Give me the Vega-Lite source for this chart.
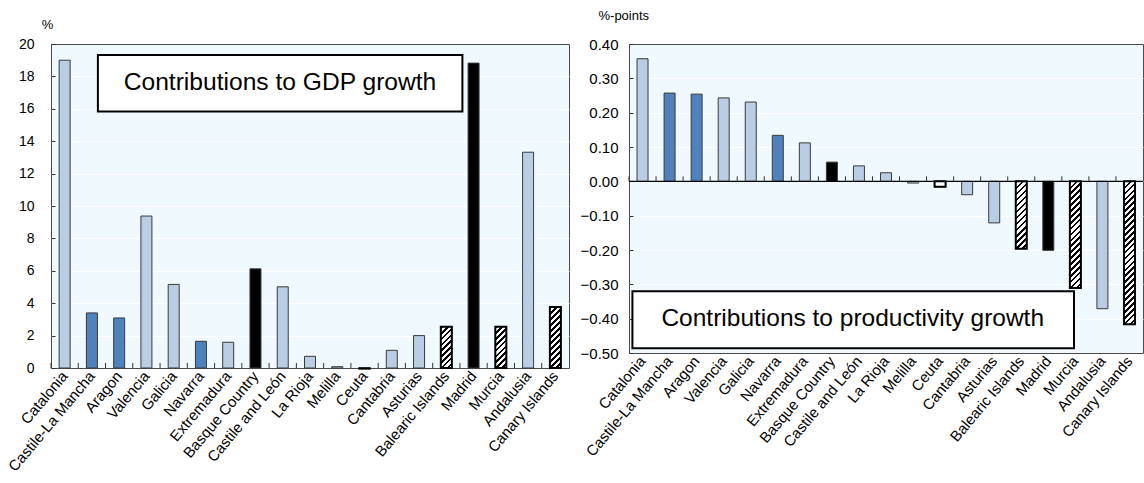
{
  "$schema": "https://vega.github.io/schema/vega-lite/v6.json",
  "background": "white",
  "padding": {"left": 5, "top": 8, "right": 0, "bottom": 0},
  "config": {
    "font": "Liberation Sans",
    "view": {"fill": "#F0FAFE", "stroke": "#4a4a4a", "strokeWidth": 1},
    "axis": {"labelColor": "#000000", "titleColor": "#000000", "gridWidth": 1}
  },
  "datasets": {
    "regions": [
      {"region": "Catalonia", "gdp": 19.0, "prod": 0.357, "group": "light"},
      {"region": "Castile-La Mancha", "gdp": 3.40, "prod": 0.257, "group": "dark"},
      {"region": "Aragon", "gdp": 3.09, "prod": 0.254, "group": "dark"},
      {"region": "Valencia", "gdp": 9.38, "prod": 0.243, "group": "light"},
      {"region": "Galicia", "gdp": 5.16, "prod": 0.231, "group": "light"},
      {"region": "Navarra", "gdp": 1.65, "prod": 0.134, "group": "dark"},
      {"region": "Extremadura", "gdp": 1.59, "prod": 0.112, "group": "light"},
      {"region": "Basque Country", "gdp": 6.12, "prod": 0.056, "group": "black"},
      {"region": "Castile and León", "gdp": 5.01, "prod": 0.045, "group": "light"},
      {"region": "La Rioja", "gdp": 0.72, "prod": 0.025, "group": "light"},
      {"region": "Melilla", "gdp": 0.08, "prod": -0.005, "group": "light"},
      {"region": "Ceuta", "gdp": -0.05, "prod": -0.016, "group": "hatched"},
      {"region": "Cantabria", "gdp": 1.09, "prod": -0.039, "group": "light"},
      {"region": "Asturias", "gdp": 2.00, "prod": -0.121, "group": "light"},
      {"region": "Balearic Islands", "gdp": 2.54, "prod": -0.196, "group": "hatched"},
      {"region": "Madrid", "gdp": 18.82, "prod": -0.201, "group": "black"},
      {"region": "Murcia", "gdp": 2.54, "prod": -0.311, "group": "hatched"},
      {"region": "Andalusia", "gdp": 13.32, "prod": -0.371, "group": "light"},
      {"region": "Canary Islands", "gdp": 3.77, "prod": -0.416, "group": "hatched"}
    ]
  },
  "bounds": "flush",
  "spacing": 60,
  "hconcat": [
    {
      "width": 518,
      "height": 324,
      "data": {"name": "regions"},
      "layer": [
        {
          "mark": {"type": "bar", "width": 11, "stroke": "#3a3a3a", "strokeWidth": 1},
          "encoding": {
            "x": {
              "field": "region", "type": "nominal",
              "scale": {"domain": ["Catalonia","Castile-La Mancha","Aragon","Valencia","Galicia","Navarra","Extremadura","Basque Country","Castile and León","La Rioja","Melilla","Ceuta","Cantabria","Asturias","Balearic Islands","Madrid","Murcia","Andalusia","Canary Islands"], "paddingInner": 0, "paddingOuter": 0},
              "axis": {"title": null, "labelAngle": -50, "labelAlign": "right", "labelBaseline": "middle", "labelFontSize": 15, "labelPadding": 5, "ticks": false, "domain": false, "grid": false, "labelOverlap": false}
            },
            "y": {
              "field": "gdp", "type": "quantitative",
              "scale": {"domain": [0, 20], "nice": false, "zero": false},
              "axis": {"values": [0,2,4,6,8,10,12,14,16,18,20], "tickCount": 30, "format": "d", "title": "%", "titleAngle": 0, "titleX": -4, "titleY": -16, "titleAlign": "center", "titleBaseline": "alphabetic", "titleFontWeight": "normal", "titleFontSize": 13, "labelFontSize": 14, "labelPadding": 21, "labelOverlap": false, "tickSize": -4, "tickColor": "#333333", "domain": false, "grid": true,
                "gridColor": {"condition": {"test": "datum.value === 0 || datum.value === 20", "value": "transparent"}, "value": "#FFFFFF"}}
            },
            "color": {
              "field": "group", "type": "nominal", "legend": null,
              "scale": {"domain": ["light", "dark", "black", "hatched"], "range": ["#B9CDE5", "#4F81BD", "#000000", "#FFFFFF"]}
            }
          }
        },
        {
          "transform": [{"filter": "datum.region === 'Ceuta'"}],
          "mark": {"type": "bar", "width": 11, "fill": "#FFFFFF", "stroke": "#000000", "strokeWidth": 1.5},
          "encoding": {
            "x": {"field": "region", "type": "nominal"},
            "y": {"field": "gdp", "type": "quantitative"}
          }
        },
        {
          "transform": [{"filter": "datum.region === 'Balearic Islands' || datum.region === 'Murcia'"}],
          "mark": {"type": "bar", "width": 11, "stroke": "#000000", "strokeWidth": 2,
            "fill": {"gradient": "linear", "x1": 0, "y1": 0, "x2": 0.3162, "y2": 1.1828, "stops": [
              {"offset": 0, "color": "#000"}, {"offset": 0.05, "color": "#000"}, {"offset": 0.05, "color": "#fff"}, {"offset": 0.1111, "color": "#fff"},
              {"offset": 0.1111, "color": "#000"}, {"offset": 0.1611, "color": "#000"}, {"offset": 0.1611, "color": "#fff"}, {"offset": 0.2222, "color": "#fff"},
              {"offset": 0.2222, "color": "#000"}, {"offset": 0.2722, "color": "#000"}, {"offset": 0.2722, "color": "#fff"}, {"offset": 0.3333, "color": "#fff"},
              {"offset": 0.3333, "color": "#000"}, {"offset": 0.3833, "color": "#000"}, {"offset": 0.3833, "color": "#fff"}, {"offset": 0.4444, "color": "#fff"},
              {"offset": 0.4444, "color": "#000"}, {"offset": 0.4944, "color": "#000"}, {"offset": 0.4944, "color": "#fff"}, {"offset": 0.5556, "color": "#fff"},
              {"offset": 0.5556, "color": "#000"}, {"offset": 0.6056, "color": "#000"}, {"offset": 0.6056, "color": "#fff"}, {"offset": 0.6667, "color": "#fff"},
              {"offset": 0.6667, "color": "#000"}, {"offset": 0.7167, "color": "#000"}, {"offset": 0.7167, "color": "#fff"}, {"offset": 0.7778, "color": "#fff"},
              {"offset": 0.7778, "color": "#000"}, {"offset": 0.8278, "color": "#000"}, {"offset": 0.8278, "color": "#fff"}, {"offset": 0.8889, "color": "#fff"},
              {"offset": 0.8889, "color": "#000"}, {"offset": 0.9389, "color": "#000"}, {"offset": 0.9389, "color": "#fff"}, {"offset": 1, "color": "#fff"}
            ]}},
          "encoding": {
            "x": {"field": "region", "type": "nominal"},
            "y": {"field": "gdp", "type": "quantitative"}
          }
        },
        {
          "transform": [{"filter": "datum.region === 'Canary Islands'"}],
          "mark": {"type": "bar", "width": 11, "stroke": "#000000", "strokeWidth": 2,
            "fill": {"gradient": "linear", "x1": 0, "y1": 0, "x2": 0.2059, "y2": 1.1431, "stops": [
              {"offset": 0, "color": "#000"}, {"offset": 0.0375, "color": "#000"}, {"offset": 0.0375, "color": "#fff"}, {"offset": 0.0833, "color": "#fff"},
              {"offset": 0.0833, "color": "#000"}, {"offset": 0.1208, "color": "#000"}, {"offset": 0.1208, "color": "#fff"}, {"offset": 0.1667, "color": "#fff"},
              {"offset": 0.1667, "color": "#000"}, {"offset": 0.2042, "color": "#000"}, {"offset": 0.2042, "color": "#fff"}, {"offset": 0.25, "color": "#fff"},
              {"offset": 0.25, "color": "#000"}, {"offset": 0.2875, "color": "#000"}, {"offset": 0.2875, "color": "#fff"}, {"offset": 0.3333, "color": "#fff"},
              {"offset": 0.3333, "color": "#000"}, {"offset": 0.3708, "color": "#000"}, {"offset": 0.3708, "color": "#fff"}, {"offset": 0.4167, "color": "#fff"},
              {"offset": 0.4167, "color": "#000"}, {"offset": 0.4542, "color": "#000"}, {"offset": 0.4542, "color": "#fff"}, {"offset": 0.5, "color": "#fff"},
              {"offset": 0.5, "color": "#000"}, {"offset": 0.5375, "color": "#000"}, {"offset": 0.5375, "color": "#fff"}, {"offset": 0.5833, "color": "#fff"},
              {"offset": 0.5833, "color": "#000"}, {"offset": 0.6208, "color": "#000"}, {"offset": 0.6208, "color": "#fff"}, {"offset": 0.6667, "color": "#fff"},
              {"offset": 0.6667, "color": "#000"}, {"offset": 0.7042, "color": "#000"}, {"offset": 0.7042, "color": "#fff"}, {"offset": 0.75, "color": "#fff"},
              {"offset": 0.75, "color": "#000"}, {"offset": 0.7875, "color": "#000"}, {"offset": 0.7875, "color": "#fff"}, {"offset": 0.8333, "color": "#fff"},
              {"offset": 0.8333, "color": "#000"}, {"offset": 0.8708, "color": "#000"}, {"offset": 0.8708, "color": "#fff"}, {"offset": 0.9167, "color": "#fff"},
              {"offset": 0.9167, "color": "#000"}, {"offset": 0.9542, "color": "#000"}, {"offset": 0.9542, "color": "#fff"}, {"offset": 1, "color": "#fff"}
            ]}},
          "encoding": {
            "x": {"field": "region", "type": "nominal"},
            "y": {"field": "gdp", "type": "quantitative"}
          }
        },
        {
          "mark": {"type": "rule", "color": "#333333", "strokeWidth": 1},
          "encoding": {
            "x": {"field": "region", "type": "nominal", "bandPosition": 0},
            "y": {"datum": 0},
            "y2": {"datum": 0.31}
          }
        },
        {
          "data": {"values": [{"label": "Contributions to GDP growth"}]},
          "mark": {"type": "rect", "fill": "#FFFFFF", "stroke": "#000000", "strokeWidth": 2},
          "encoding": {
            "x": {"datum": "Castile-La Mancha", "type": "nominal", "bandPosition": 0.72},
            "x2": {"datum": "Madrid", "bandPosition": 0.09},
            "y": {"datum": 19.32},
            "y2": {"datum": 15.83}
          }
        },
        {
          "data": {"values": [{"label": "Contributions to GDP growth"}]},
          "mark": {"type": "text", "fontSize": 24.6, "align": "center", "baseline": "middle", "color": "#000000"},
          "encoding": {
            "x": {"datum": "Castile and León", "type": "nominal", "bandPosition": 0.4},
            "y": {"datum": 17.58},
            "text": {"field": "label"}
          }
        }
      ]
    },
    {
      "width": 514,
      "height": 309,
      "data": {"name": "regions"},
      "layer": [
        {
          "mark": {"type": "bar", "width": 11, "stroke": "#3a3a3a", "strokeWidth": 1},
          "encoding": {
            "x": {
              "field": "region", "type": "nominal",
              "scale": {"domain": ["Catalonia","Castile-La Mancha","Aragon","Valencia","Galicia","Navarra","Extremadura","Basque Country","Castile and León","La Rioja","Melilla","Ceuta","Cantabria","Asturias","Balearic Islands","Madrid","Murcia","Andalusia","Canary Islands"], "paddingInner": 0, "paddingOuter": 0},
              "axis": {"title": null, "labelAngle": -50, "labelAlign": "right", "labelBaseline": "middle", "labelFontSize": 15, "labelPadding": 5, "ticks": false, "domain": false, "grid": false, "labelOverlap": false}
            },
            "y": {
              "field": "prod", "type": "quantitative",
              "scale": {"domain": [-0.5, 0.4], "nice": false, "zero": false},
              "axis": {"values": [-0.5,-0.4,-0.3,-0.2,-0.1,0,0.1,0.2,0.3,0.4], "tickCount": 30, "format": ".2f", "title": "%-points", "titleAngle": 0, "titleX": -31, "titleY": -25, "titleAlign": "left", "titleBaseline": "alphabetic", "titleFontWeight": "normal", "titleFontSize": 13, "labelFontSize": 15, "labelPadding": 15, "labelOverlap": false, "tickSize": -4, "tickColor": "#333333", "domain": false, "grid": true,
                "gridColor": {"condition": {"test": "datum.value < -0.49 || datum.value > 0.39", "value": "transparent"}, "value": "#FFFFFF"}}
            },
            "color": {
              "field": "group", "type": "nominal", "legend": null,
              "scale": {"domain": ["light", "dark", "black", "hatched"], "range": ["#B9CDE5", "#4F81BD", "#000000", "#FFFFFF"]}
            }
          }
        },
        {
          "transform": [{"filter": "datum.region === 'Ceuta'"}],
          "mark": {"type": "bar", "width": 11, "fill": "#FFFFFF", "stroke": "#000000", "strokeWidth": 2},
          "encoding": {
            "x": {"field": "region", "type": "nominal"},
            "y": {"field": "prod", "type": "quantitative"}
          }
        },
        {
          "transform": [{"filter": "datum.region === 'Balearic Islands'"}],
          "mark": {"type": "bar", "width": 11, "stroke": "#000000", "strokeWidth": 2,
            "fill": {"gradient": "linear", "x1": 0, "y1": 0, "x2": 0.1853, "y2": 1.1332, "stops": [
              {"offset": 0, "color": "#000"}, {"offset": 0.0346, "color": "#000"}, {"offset": 0.0346, "color": "#fff"}, {"offset": 0.0769, "color": "#fff"},
              {"offset": 0.0769, "color": "#000"}, {"offset": 0.1115, "color": "#000"}, {"offset": 0.1115, "color": "#fff"}, {"offset": 0.1538, "color": "#fff"},
              {"offset": 0.1538, "color": "#000"}, {"offset": 0.1885, "color": "#000"}, {"offset": 0.1885, "color": "#fff"}, {"offset": 0.2308, "color": "#fff"},
              {"offset": 0.2308, "color": "#000"}, {"offset": 0.2654, "color": "#000"}, {"offset": 0.2654, "color": "#fff"}, {"offset": 0.3077, "color": "#fff"},
              {"offset": 0.3077, "color": "#000"}, {"offset": 0.3423, "color": "#000"}, {"offset": 0.3423, "color": "#fff"}, {"offset": 0.3846, "color": "#fff"},
              {"offset": 0.3846, "color": "#000"}, {"offset": 0.4192, "color": "#000"}, {"offset": 0.4192, "color": "#fff"}, {"offset": 0.4615, "color": "#fff"},
              {"offset": 0.4615, "color": "#000"}, {"offset": 0.4962, "color": "#000"}, {"offset": 0.4962, "color": "#fff"}, {"offset": 0.5385, "color": "#fff"},
              {"offset": 0.5385, "color": "#000"}, {"offset": 0.5731, "color": "#000"}, {"offset": 0.5731, "color": "#fff"}, {"offset": 0.6154, "color": "#fff"},
              {"offset": 0.6154, "color": "#000"}, {"offset": 0.65, "color": "#000"}, {"offset": 0.65, "color": "#fff"}, {"offset": 0.6923, "color": "#fff"},
              {"offset": 0.6923, "color": "#000"}, {"offset": 0.7269, "color": "#000"}, {"offset": 0.7269, "color": "#fff"}, {"offset": 0.7692, "color": "#fff"},
              {"offset": 0.7692, "color": "#000"}, {"offset": 0.8038, "color": "#000"}, {"offset": 0.8038, "color": "#fff"}, {"offset": 0.8462, "color": "#fff"},
              {"offset": 0.8462, "color": "#000"}, {"offset": 0.8808, "color": "#000"}, {"offset": 0.8808, "color": "#fff"}, {"offset": 0.9231, "color": "#fff"},
              {"offset": 0.9231, "color": "#000"}, {"offset": 0.9577, "color": "#000"}, {"offset": 0.9577, "color": "#fff"}, {"offset": 1, "color": "#fff"}
            ]}},
          "encoding": {
            "x": {"field": "region", "type": "nominal"},
            "y": {"field": "prod", "type": "quantitative"}
          }
        },
        {
          "transform": [{"filter": "datum.region === 'Murcia'"}],
          "mark": {"type": "bar", "width": 11, "stroke": "#000000", "strokeWidth": 2,
            "fill": {"gradient": "linear", "x1": 0, "y1": 0, "x2": 0.1124, "y2": 1.0914, "stops": [
              {"offset": 0, "color": "#000"}, {"offset": 0.0225, "color": "#000"}, {"offset": 0.0225, "color": "#fff"}, {"offset": 0.05, "color": "#fff"},
              {"offset": 0.05, "color": "#000"}, {"offset": 0.0725, "color": "#000"}, {"offset": 0.0725, "color": "#fff"}, {"offset": 0.1, "color": "#fff"},
              {"offset": 0.1, "color": "#000"}, {"offset": 0.1225, "color": "#000"}, {"offset": 0.1225, "color": "#fff"}, {"offset": 0.15, "color": "#fff"},
              {"offset": 0.15, "color": "#000"}, {"offset": 0.1725, "color": "#000"}, {"offset": 0.1725, "color": "#fff"}, {"offset": 0.2, "color": "#fff"},
              {"offset": 0.2, "color": "#000"}, {"offset": 0.2225, "color": "#000"}, {"offset": 0.2225, "color": "#fff"}, {"offset": 0.25, "color": "#fff"},
              {"offset": 0.25, "color": "#000"}, {"offset": 0.2725, "color": "#000"}, {"offset": 0.2725, "color": "#fff"}, {"offset": 0.3, "color": "#fff"},
              {"offset": 0.3, "color": "#000"}, {"offset": 0.3225, "color": "#000"}, {"offset": 0.3225, "color": "#fff"}, {"offset": 0.35, "color": "#fff"},
              {"offset": 0.35, "color": "#000"}, {"offset": 0.3725, "color": "#000"}, {"offset": 0.3725, "color": "#fff"}, {"offset": 0.4, "color": "#fff"},
              {"offset": 0.4, "color": "#000"}, {"offset": 0.4225, "color": "#000"}, {"offset": 0.4225, "color": "#fff"}, {"offset": 0.45, "color": "#fff"},
              {"offset": 0.45, "color": "#000"}, {"offset": 0.4725, "color": "#000"}, {"offset": 0.4725, "color": "#fff"}, {"offset": 0.5, "color": "#fff"},
              {"offset": 0.5, "color": "#000"}, {"offset": 0.5225, "color": "#000"}, {"offset": 0.5225, "color": "#fff"}, {"offset": 0.55, "color": "#fff"},
              {"offset": 0.55, "color": "#000"}, {"offset": 0.5725, "color": "#000"}, {"offset": 0.5725, "color": "#fff"}, {"offset": 0.6, "color": "#fff"},
              {"offset": 0.6, "color": "#000"}, {"offset": 0.6225, "color": "#000"}, {"offset": 0.6225, "color": "#fff"}, {"offset": 0.65, "color": "#fff"},
              {"offset": 0.65, "color": "#000"}, {"offset": 0.6725, "color": "#000"}, {"offset": 0.6725, "color": "#fff"}, {"offset": 0.7, "color": "#fff"},
              {"offset": 0.7, "color": "#000"}, {"offset": 0.7225, "color": "#000"}, {"offset": 0.7225, "color": "#fff"}, {"offset": 0.75, "color": "#fff"},
              {"offset": 0.75, "color": "#000"}, {"offset": 0.7725, "color": "#000"}, {"offset": 0.7725, "color": "#fff"}, {"offset": 0.8, "color": "#fff"},
              {"offset": 0.8, "color": "#000"}, {"offset": 0.8225, "color": "#000"}, {"offset": 0.8225, "color": "#fff"}, {"offset": 0.85, "color": "#fff"},
              {"offset": 0.85, "color": "#000"}, {"offset": 0.8725, "color": "#000"}, {"offset": 0.8725, "color": "#fff"}, {"offset": 0.9, "color": "#fff"},
              {"offset": 0.9, "color": "#000"}, {"offset": 0.9225, "color": "#000"}, {"offset": 0.9225, "color": "#fff"}, {"offset": 0.95, "color": "#fff"},
              {"offset": 0.95, "color": "#000"}, {"offset": 0.9725, "color": "#000"}, {"offset": 0.9725, "color": "#fff"}, {"offset": 1, "color": "#fff"}
            ]}},
          "encoding": {
            "x": {"field": "region", "type": "nominal"},
            "y": {"field": "prod", "type": "quantitative"}
          }
        },
        {
          "transform": [{"filter": "datum.region === 'Canary Islands'"}],
          "mark": {"type": "bar", "width": 11, "stroke": "#000000", "strokeWidth": 2,
            "fill": {"gradient": "linear", "x1": 0, "y1": 0, "x2": 0.0825, "y2": 1.0707, "stops": [
              {"offset": 0, "color": "#000"}, {"offset": 0.0173, "color": "#000"}, {"offset": 0.0173, "color": "#fff"}, {"offset": 0.0385, "color": "#fff"},
              {"offset": 0.0385, "color": "#000"}, {"offset": 0.0558, "color": "#000"}, {"offset": 0.0558, "color": "#fff"}, {"offset": 0.0769, "color": "#fff"},
              {"offset": 0.0769, "color": "#000"}, {"offset": 0.0942, "color": "#000"}, {"offset": 0.0942, "color": "#fff"}, {"offset": 0.1154, "color": "#fff"},
              {"offset": 0.1154, "color": "#000"}, {"offset": 0.1327, "color": "#000"}, {"offset": 0.1327, "color": "#fff"}, {"offset": 0.1538, "color": "#fff"},
              {"offset": 0.1538, "color": "#000"}, {"offset": 0.1712, "color": "#000"}, {"offset": 0.1712, "color": "#fff"}, {"offset": 0.1923, "color": "#fff"},
              {"offset": 0.1923, "color": "#000"}, {"offset": 0.2096, "color": "#000"}, {"offset": 0.2096, "color": "#fff"}, {"offset": 0.2308, "color": "#fff"},
              {"offset": 0.2308, "color": "#000"}, {"offset": 0.2481, "color": "#000"}, {"offset": 0.2481, "color": "#fff"}, {"offset": 0.2692, "color": "#fff"},
              {"offset": 0.2692, "color": "#000"}, {"offset": 0.2865, "color": "#000"}, {"offset": 0.2865, "color": "#fff"}, {"offset": 0.3077, "color": "#fff"},
              {"offset": 0.3077, "color": "#000"}, {"offset": 0.325, "color": "#000"}, {"offset": 0.325, "color": "#fff"}, {"offset": 0.3462, "color": "#fff"},
              {"offset": 0.3462, "color": "#000"}, {"offset": 0.3635, "color": "#000"}, {"offset": 0.3635, "color": "#fff"}, {"offset": 0.3846, "color": "#fff"},
              {"offset": 0.3846, "color": "#000"}, {"offset": 0.4019, "color": "#000"}, {"offset": 0.4019, "color": "#fff"}, {"offset": 0.4231, "color": "#fff"},
              {"offset": 0.4231, "color": "#000"}, {"offset": 0.4404, "color": "#000"}, {"offset": 0.4404, "color": "#fff"}, {"offset": 0.4615, "color": "#fff"},
              {"offset": 0.4615, "color": "#000"}, {"offset": 0.4788, "color": "#000"}, {"offset": 0.4788, "color": "#fff"}, {"offset": 0.5, "color": "#fff"},
              {"offset": 0.5, "color": "#000"}, {"offset": 0.5173, "color": "#000"}, {"offset": 0.5173, "color": "#fff"}, {"offset": 0.5385, "color": "#fff"},
              {"offset": 0.5385, "color": "#000"}, {"offset": 0.5558, "color": "#000"}, {"offset": 0.5558, "color": "#fff"}, {"offset": 0.5769, "color": "#fff"},
              {"offset": 0.5769, "color": "#000"}, {"offset": 0.5942, "color": "#000"}, {"offset": 0.5942, "color": "#fff"}, {"offset": 0.6154, "color": "#fff"},
              {"offset": 0.6154, "color": "#000"}, {"offset": 0.6327, "color": "#000"}, {"offset": 0.6327, "color": "#fff"}, {"offset": 0.6538, "color": "#fff"},
              {"offset": 0.6538, "color": "#000"}, {"offset": 0.6712, "color": "#000"}, {"offset": 0.6712, "color": "#fff"}, {"offset": 0.6923, "color": "#fff"},
              {"offset": 0.6923, "color": "#000"}, {"offset": 0.7096, "color": "#000"}, {"offset": 0.7096, "color": "#fff"}, {"offset": 0.7308, "color": "#fff"},
              {"offset": 0.7308, "color": "#000"}, {"offset": 0.7481, "color": "#000"}, {"offset": 0.7481, "color": "#fff"}, {"offset": 0.7692, "color": "#fff"},
              {"offset": 0.7692, "color": "#000"}, {"offset": 0.7865, "color": "#000"}, {"offset": 0.7865, "color": "#fff"}, {"offset": 0.8077, "color": "#fff"},
              {"offset": 0.8077, "color": "#000"}, {"offset": 0.825, "color": "#000"}, {"offset": 0.825, "color": "#fff"}, {"offset": 0.8462, "color": "#fff"},
              {"offset": 0.8462, "color": "#000"}, {"offset": 0.8635, "color": "#000"}, {"offset": 0.8635, "color": "#fff"}, {"offset": 0.8846, "color": "#fff"},
              {"offset": 0.8846, "color": "#000"}, {"offset": 0.9019, "color": "#000"}, {"offset": 0.9019, "color": "#fff"}, {"offset": 0.9231, "color": "#fff"},
              {"offset": 0.9231, "color": "#000"}, {"offset": 0.9404, "color": "#000"}, {"offset": 0.9404, "color": "#fff"}, {"offset": 0.9615, "color": "#fff"},
              {"offset": 0.9615, "color": "#000"}, {"offset": 0.9788, "color": "#000"}, {"offset": 0.9788, "color": "#fff"}, {"offset": 1, "color": "#fff"}
            ]}},
          "encoding": {
            "x": {"field": "region", "type": "nominal"},
            "y": {"field": "prod", "type": "quantitative"}
          }
        },
        {
          "data": {"values": [{"label": "Contributions to productivity growth"}]},
          "mark": {"type": "rule", "color": "#000000", "strokeWidth": 1.2},
          "encoding": {"y": {"datum": 0}}
        },
        {
          "mark": {"type": "rule", "color": "#333333", "strokeWidth": 1},
          "encoding": {
            "x": {"field": "region", "type": "nominal", "bandPosition": 0},
            "y": {"datum": 0},
            "y2": {"datum": 0.0146}
          }
        },
        {
          "data": {"values": [{"label": "Contributions to productivity growth"}]},
          "mark": {"type": "rect", "fill": "#FFFFFF", "stroke": "#000000", "strokeWidth": 2},
          "encoding": {
            "x": {"datum": "Catalonia", "type": "nominal", "bandPosition": 0.126},
            "x2": {"datum": "Murcia", "bandPosition": 0.45},
            "y": {"datum": -0.32},
            "y2": {"datum": -0.486}
          }
        },
        {
          "data": {"values": [{"label": "Contributions to productivity growth"}]},
          "mark": {"type": "text", "fontSize": 24.5, "align": "center", "baseline": "middle", "color": "#000000"},
          "encoding": {
            "x": {"datum": "Castile and León", "type": "nominal", "bandPosition": 0.27},
            "y": {"datum": -0.402},
            "text": {"field": "label"}
          }
        }
      ]
    }
  ]
}
